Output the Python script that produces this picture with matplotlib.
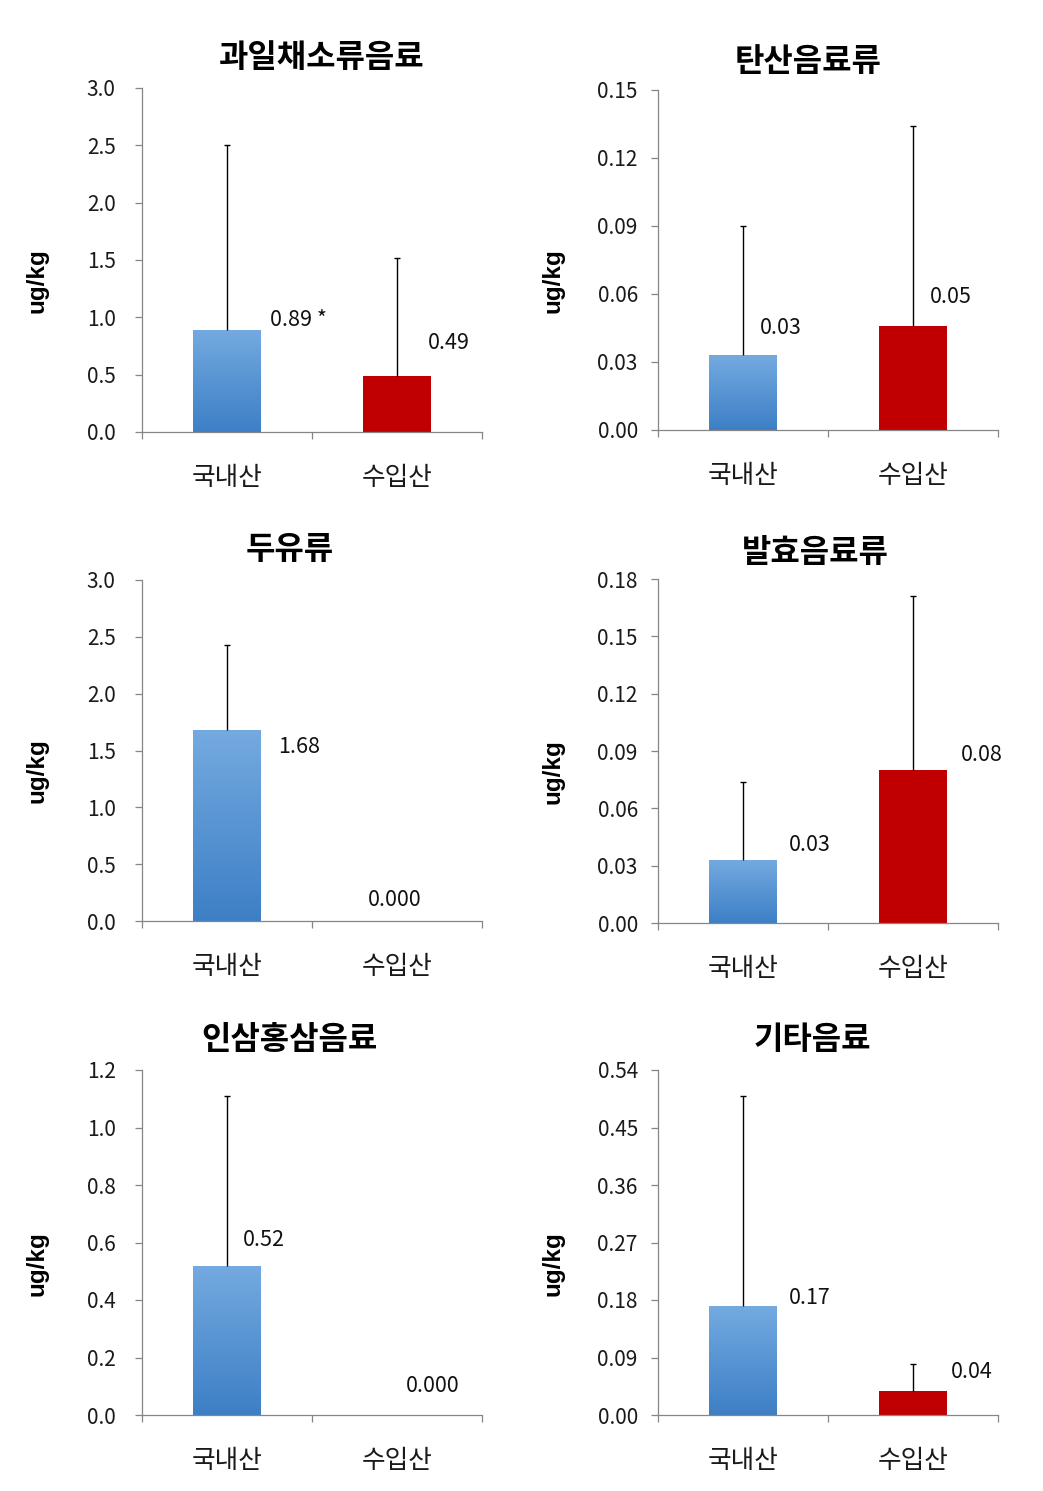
import matplotlib
matplotlib.use('Agg')
import matplotlib.pyplot as plt
import numpy as np
from matplotlib.colors import LinearSegmentedColormap
from matplotlib import transforms

plt.rcParams['font.family'] = ['Noto Sans CJK KR', 'DejaVu Sans']

# ---------------- data ----------------
categories = ['국내산', '수입산']
titles = ['과일채소류음료', '탄산음료류', '두유류', '발효음료류', '인삼홍삼음료', '기타음료']

means_fruit = [0.89, 0.49]
sd_fruit = [1.61, 1.03]
labels_fruit = ['0.89 *', '0.49']
yticks_fruit = [0.0, 0.5, 1.0, 1.5, 2.0, 2.5, 3.0]

means_soda = [0.033, 0.046]
sd_soda = [0.057, 0.088]
labels_soda = ['0.03', '0.05']
yticks_soda = [0.00, 0.03, 0.06, 0.09, 0.12, 0.15]

means_soy = [1.68, 0.0]
sd_soy = [0.75, 0.0]
labels_soy = ['1.68', '0.000']
yticks_soy = [0.0, 0.5, 1.0, 1.5, 2.0, 2.5, 3.0]

means_ferm = [0.033, 0.080]
sd_ferm = [0.041, 0.091]
labels_ferm = ['0.03', '0.08']
yticks_ferm = [0.00, 0.03, 0.06, 0.09, 0.12, 0.15, 0.18]

means_ginseng = [0.52, 0.0]
sd_ginseng = [0.59, 0.0]
labels_ginseng = ['0.52', '0.000']
yticks_ginseng = [0.0, 0.2, 0.4, 0.6, 0.8, 1.0, 1.2]

means_other = [0.17, 0.038]
sd_other = [0.33, 0.042]
labels_other = ['0.17', '0.04']
yticks_other = [0.00, 0.09, 0.18, 0.27, 0.36, 0.45, 0.54]

ylabel = 'ug/kg'

# ---------------- layout / style (not data) ----------------
W, H = 1043, 1491
panel_rects = [  # pixel: left, right, top, bottom
    (142, 482, 88, 432), (658, 998, 90, 430),
    (142, 482, 580, 921), (658, 998, 579, 923),
    (142, 482, 1070, 1415), (658, 998, 1070, 1415),
]
title_x = [0.529, 0.441, 0.435, 0.462, 0.435, 0.453]
title_dy = [30, 28, 30, 26, 30, 30]
tick_fmt = ['%.1f', '%.2f', '%.1f', '%.2f', '%.1f', '%.2f']
tick_pad = [14, 9.5, 14, 9.5, 14, 9.5]
# label positions: (dx from bar centre, y in data units)
label_pos = [
    [(0.25, 0.977), (0.18, 0.776)],
    [(0.10, 0.045), (0.10, 0.0587)],
    [(0.30, 1.53), (-0.17, 0.185)],
    [(0.27, 0.0408), (0.28, 0.0879)],
    [(0.094, 0.609), (0.05, 0.10)],
    [(0.27, 0.183), (0.22, 0.0673)],
]

panels = [
    (means_fruit, sd_fruit, labels_fruit, yticks_fruit),
    (means_soda, sd_soda, labels_soda, yticks_soda),
    (means_soy, sd_soy, labels_soy, yticks_soy),
    (means_ferm, sd_ferm, labels_ferm, yticks_ferm),
    (means_ginseng, sd_ginseng, labels_ginseng, yticks_ginseng),
    (means_other, sd_other, labels_other, yticks_other),
]

spine_c = '#868686'
red = '#C00000'
blue_cmap = LinearSegmentedColormap.from_list('bl', ['#3D7FC6', '#74AAE0'])
grad = np.linspace(0, 1, 256).reshape(-1, 1)

fig = plt.figure(figsize=(W / 100, H / 100), dpi=100)

for i, (means, sds, labs, yt) in enumerate(panels):
    l, r, t, b = panel_rects[i]
    ax = fig.add_axes([l / W, 1 - b / H, (r - l) / W, (b - t) / H])
    x = np.arange(len(categories))
    width = 0.4
    bars = ax.bar(x, means, width, color=['#5B97D6', red], zorder=2, linewidth=0)
    # gradient for domestic bar
    bb = bars[0]
    if means[0] > 0:
        im = ax.imshow(grad, extent=[bb.get_x(), bb.get_x() + bb.get_width(), 0, bb.get_height()],
                       origin='lower', cmap=blue_cmap, aspect='auto', zorder=2.1)
        im.set_clip_path(bb)
    for xi, m, s in zip(x, means, sds):
        if s > 0:
            eb = ax.errorbar(xi, m, yerr=[[0], [s]], fmt='none', ecolor='black',
                             elinewidth=1.0, capsize=2.3, capthick=1.0, zorder=3)
            # hide the cap at the bar top (only upper error shown)
            eb[1][0].set_visible(False)
    for xi, lab, (dx, yy) in zip(x, labs, label_pos[i]):
        ax.text(xi + dx, yy, lab, ha='left', va='center', fontsize=15.5, color='#111111')

    ax.set_xlim(-0.5, 1.5)
    ax.set_ylim(yt[0], yt[-1])
    ax.set_yticks(yt)
    ax.set_yticklabels([tick_fmt[i] % v for v in yt])
    ax.set_xticks([-0.5, 0.5, 1.5])
    ax.set_xticklabels([])
    for s in ['top', 'right']:
        ax.spines[s].set_visible(False)
    for s in ['left', 'bottom']:
        ax.spines[s].set_color(spine_c)
        ax.spines[s].set_linewidth(0.9)
    ax.tick_params(axis='y', direction='out', length=5, width=0.9, color=spine_c,
                   labelsize=15, labelcolor='#1a1a1a', pad=tick_pad[i])
    ax.tick_params(axis='x', direction='out', length=5, width=0.9, color=spine_c)
    trans = transforms.blended_transform_factory(ax.transData, ax.transAxes)
    for xi, c in zip(x, categories):
        ax.text(xi, -46 / (b - t), c, transform=trans, ha='center', va='center',
                fontsize=18.5, color='#1a1a1a')
    ax.text(title_x[i], 1 + title_dy[i] / (b - t), titles[i], transform=ax.transAxes,
            ha='center', va='center', fontsize=23, fontweight='black', color='black')
    ax.text(-105 / (r - l), 0.44, ylabel, transform=ax.transAxes, rotation=90,
            ha='center', va='center', fontsize=17.5, fontweight='bold',
            family=['Liberation Sans', 'DejaVu Sans'])

fig.savefig('out.png', dpi=100)
